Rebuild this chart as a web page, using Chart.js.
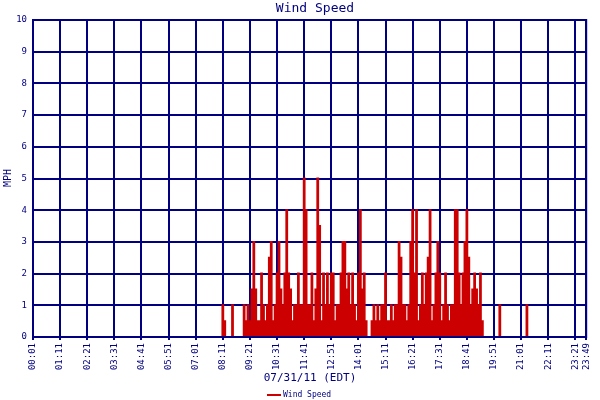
<!DOCTYPE html><html><head><meta charset="utf-8">
<script src="https://cdn.jsdelivr.net/npm/chart.js@4"></script>
<style>body{margin:0;background:#fff}</style></head><body>
<canvas id="c" width="600" height="400"></canvas>
<script>
const startTime = "08:10";
const stepMinutes = 5;
const windSpeed = [1,0.5,0,0,0,1,0,0,0,0,0,1,0.5,1,0.5,1.5,3,1.5,0.5,0.5,
2,1,0.5,1,2.5,3,0.5,1,2,3,1.5,1,2,4,2,1.5,0.5,1,1,2,
1,1,5,4,1,1,2,0.5,1.5,5,3.5,0.5,2,1,2,1,2,2,0.5,1,
1,2,3,3,1.5,2,1,2,1,0.5,2,4,1.5,2,0.5,0,0,0.5,1,0.5,
1,0.5,1,1,2,0.5,0.5,1,0.5,1,1,3,2.5,1,1,0.5,1,3,4,2,
4,0.5,1,2,1,2,2.5,4,0.5,1,2,3,2,0.5,1,2,1,0.5,1,1,
4,4,2,1,2,3,4,2.5,1,1.5,2,1.5,1,2,0.5,0,0,0,0,0,
0,0,0,1,0,0,0,0,0,0,0,0,0,0,0,0,0,1,0,0];
const tickLabels = ["00:01","01:11","02:21","03:31","04:41","05:51","07:01","08:11","09:21","10:31","11:41","12:51","14:01","15:11","16:21","17:31","18:41","19:51","21:01","22:11","23:21","23:49"];
const yTicks = [0,1,2,3,4,5,6,7,8,9,10];

const toMin = s => { const [h,m] = s.split(":").map(Number); return h*60+m; };
const t0 = toMin(startTime);
const pts = [{x:1,y:0},{x:t0-1,y:0}];
windSpeed.forEach((v,i)=>{ const t=t0+i*stepMinutes; pts.push({x:t,y:v}); pts.push({x:t+2,y:0}); });
pts.push({x:toMin("23:49"),y:0});
const tickMins = tickLabels.map(toMin);
const navy = "#000080";
const font = {family:"DejaVu Sans Mono", size:9};

const deco = {id:"deco", afterDraw(ch){
  const c = ch.ctx, a = ch.chartArea;
  c.save();
  c.fillStyle = navy; c.textAlign = "center"; c.textBaseline = "middle";
  c.font = "13px 'DejaVu Sans Mono'"; c.fillText("Wind Speed", 315, 9);
  c.font = "11px 'DejaVu Sans Mono'"; c.fillText("07/31/11 (EDT)", 310, 378);
  c.save(); c.translate(8, 178); c.rotate(-Math.PI/2); c.font="10px 'DejaVu Sans Mono'"; c.fillText("MPH",0,0); c.restore();
  c.strokeStyle = "#cc0000"; c.lineWidth = 2; c.beginPath(); c.moveTo(267,395); c.lineTo(281,395); c.stroke();
  c.textAlign = "left"; c.font = "8px 'DejaVu Sans Mono'"; c.fillText("Wind Speed", 283, 395);
  c.strokeStyle = navy; c.lineWidth = 2; c.strokeRect(a.left, a.top, a.right-a.left, a.bottom-a.top);
  c.restore();
}};

new Chart(document.getElementById("c"), {
  type:"line",
  data:{datasets:[{data:pts, stepped:"before", borderColor:"#cc0000", borderWidth:2, pointRadius:0, fill:false}]},
  options:{
    responsive:false, animation:false,
    layout:{autoPadding:false, padding:{top:20,right:3,left:0,bottom:0}},
    plugins:{legend:{display:false}, tooltip:{enabled:false}},
    scales:{
      x:{type:"linear", min:1, max:toMin("23:49"),
        afterBuildTicks(s){ s.ticks = tickMins.map(v=>({value:v})); },
        afterFit(s){ s.height = 63; },
        ticks:{autoSkip:false, maxRotation:90, minRotation:90, color:navy, font,
          callback:(v,i)=>tickLabels[i]},
        grid:{color:navy, lineWidth:2, tickLength:3}, border:{color:navy}},
      y:{min:0, max:10,
        afterBuildTicks(s){ s.ticks = yTicks.map(v=>({value:v})); },
        afterFit(s){ s.width = 33; },
        ticks:{color:navy, font, padding:6},
        grid:{color:navy, lineWidth:2, tickLength:0}, border:{color:navy}}
    }
  },
  plugins:[deco]
});
</script></body></html>
